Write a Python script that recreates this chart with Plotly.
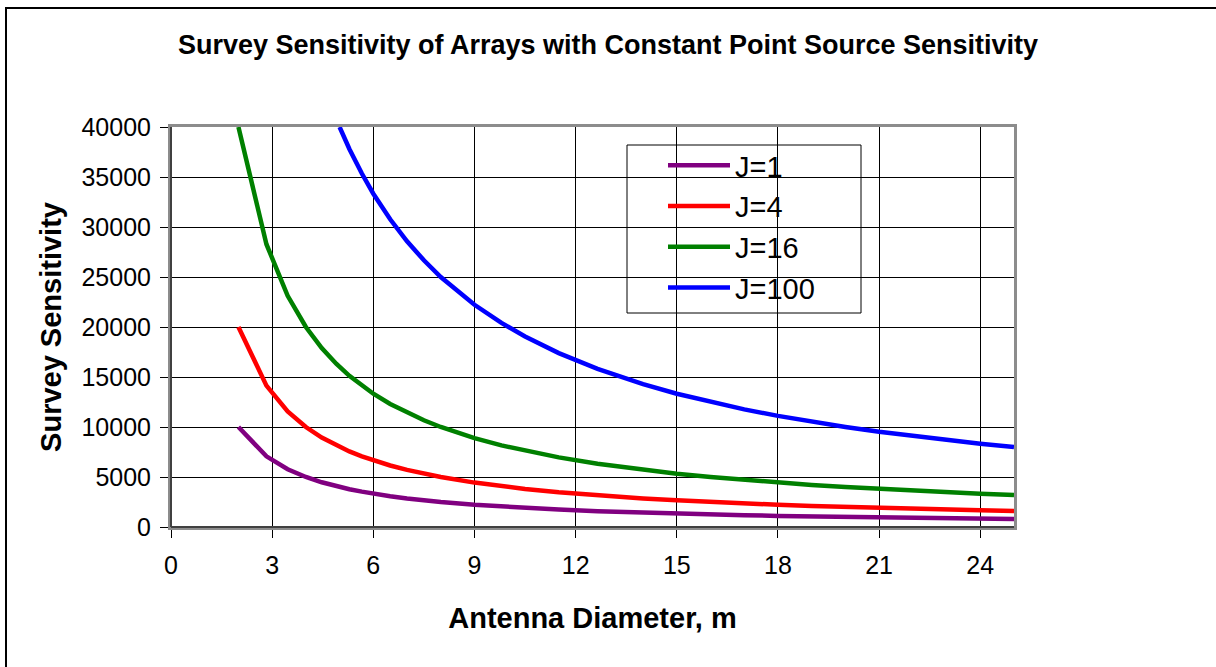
import plotly.graph_objects as go

# Antenna diameter (m) sample points
diam = [2, 2.83, 3.46, 4, 4.47, 4.9, 5.29, 5.66, 6, 6.5, 7, 7.5, 8, 9, 9.8,
        10.5, 11.5, 12.65, 14, 15, 16, 17, 18, 19, 20, 21, 22, 23, 24, 25]

j1 = [10000, 7070, 5780, 5000, 4470, 4080, 3780, 3535, 3330, 3080, 2860, 2670,
      2500, 2220, 2040, 1900, 1740, 1580, 1430, 1330, 1250, 1180, 1110, 1050,
      1000, 950, 910, 870, 830, 800]
j4 = [20000, 14140, 11560, 10000, 8940, 8160, 7560, 7070, 6670, 6150, 5710,
      5330, 5000, 4440, 4080, 3810, 3480, 3160, 2860, 2670, 2500, 2350, 2220,
      2110, 2000, 1900, 1820, 1740, 1670, 1600]
j16 = [40000, 28280, 23120, 20000, 17890, 16330, 15120, 14140, 13330, 12310,
       11430, 10670, 10000, 8890, 8160, 7620, 6960, 6320, 5710, 5330, 5000,
       4710, 4440, 4210, 4000, 3810, 3640, 3480, 3330, 3200]

diam100 = [5, 5.29, 5.66, 6, 6.5, 7, 7.5, 8, 9, 9.8, 10.5, 11.5, 12.65, 14,
           15, 16, 17, 18, 19, 20, 21, 22, 23, 24, 25]
j100 = [40000, 37800, 35350, 33330, 30770, 28570, 26670, 25000, 22220, 20410,
        19050, 17390, 15810, 14290, 13330, 12500, 11760, 11110, 10530, 10000,
        9520, 9090, 8700, 8330, 8000]

names = ["J=1", "J=4", "J=16", "J=100"]
colors = ["#800080", "#FF0000", "#008000", "#0000FF"]
xs = [diam, diam, diam, diam100]
ys = [j1, j4, j16, j100]

x_ticks = [0, 3, 6, 9, 12, 15, 18, 21, 24]
y_ticks = [0, 5000, 10000, 15000, 20000, 25000, 30000, 35000, 40000]

FONT = "Liberation Sans, Arial, sans-serif"

fig = go.Figure()
for x, y, n, c in zip(xs, ys, names, colors):
    fig.add_trace(go.Scatter(x=x, y=y, mode="lines", name=n,
                             line=dict(color=c, width=4.5)))

W, H = 1216, 667
L, R, T, B = 171, 202, 127, 140
pw, ph = W - L - R, H - T - B


def px_x(p):
    return (p - L) / pw


def px_y(p):
    return (H - B - p) / ph


shapes = [
    # outer chart border
    dict(type="rect", xref="paper", yref="paper",
         x0=px_x(6), x1=px_x(1230), y0=px_y(680), y1=px_y(8),
         line=dict(color="black", width=2), fillcolor="rgba(0,0,0,0)",
         layer="below"),
    # legend box
    dict(type="rect", xref="paper", yref="paper",
         x0=px_x(627), x1=px_x(861), y0=px_y(313), y1=px_y(145),
         line=dict(color="black", width=1), fillcolor="white",
         layer="between"),
    # darker left and bottom axis lines
    dict(type="line", xref="paper", yref="paper", x0=0, x1=0, y0=0, y1=1,
         line=dict(color="#404040", width=2), layer="above"),
    dict(type="line", xref="paper", yref="paper", x0=0, x1=1, y0=0, y1=0,
         line=dict(color="#404040", width=2), layer="above"),
]

fig.update_layout(
    width=W, height=H,
    margin=dict(l=L, r=R, t=T, b=B, autoexpand=False),
    paper_bgcolor="white", plot_bgcolor="white",
    font=dict(family=FONT, color="black"),
    title=dict(text="<b>Survey Sensitivity of Arrays with Constant Point Source Sensitivity</b>",
               x=0.5, xanchor="center", xref="container", y=1 - 45 / H, yanchor="middle",
               font=dict(size=27, family=FONT)),
    showlegend=True,
    legend=dict(x=px_x(663), y=px_y(140), xanchor="left", yanchor="top",
                bgcolor="rgba(0,0,0,0)", borderwidth=0,
                font=dict(size=29, family=FONT), itemwidth=62,
                tracegroupgap=0),
    shapes=shapes,
)

fig.update_xaxes(range=[0, 25], tickvals=x_ticks, showgrid=True,
                 gridcolor="black", gridwidth=1, zeroline=False,
                 showline=True, linecolor="#8c8c8c", linewidth=3, mirror=True,
                 ticks="outside", ticklen=8, tickcolor="black", tickwidth=1,
                 tickfont=dict(size=25, family=FONT), ticklabelstandoff=6,
                 title=dict(text="<b>Antenna Diameter, m</b>", standoff=30,
                            font=dict(size=29, family=FONT)))
fig.update_yaxes(range=[0, 40000], tickvals=y_ticks, tickformat="d",
                 showgrid=True, gridcolor="black", gridwidth=1, zeroline=False,
                 showline=True, linecolor="#8c8c8c", linewidth=3, mirror=True,
                 ticks="outside", ticklen=8, tickcolor="black", tickwidth=1,
                 tickfont=dict(size=25, family=FONT), ticklabelstandoff=4,
                 title=dict(text="<b>Survey Sensitivity</b>", standoff=12,
                            font=dict(size=29, family=FONT)))

fig.write_html("out.html", config={"displayModeBar": False},
               post_script="document.body.style.margin='0px';")
